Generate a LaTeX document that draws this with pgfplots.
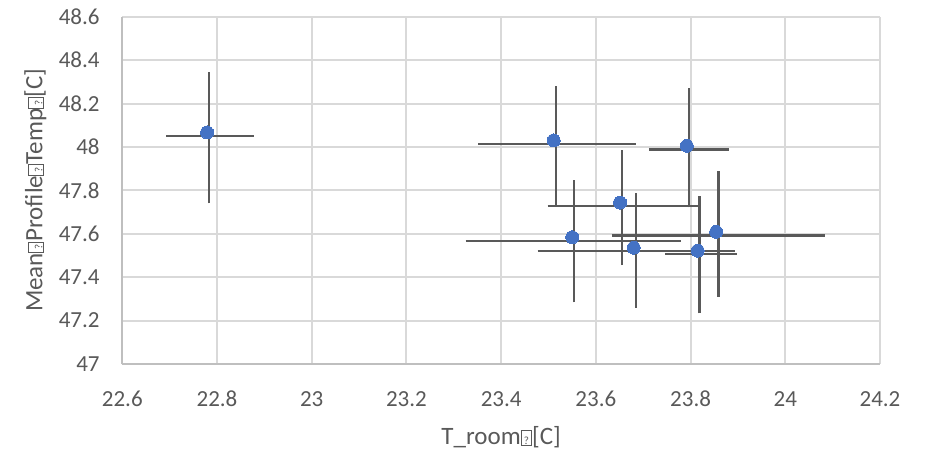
\documentclass[border=0pt]{standalone}
\usepackage{fontspec}
\setmainfont{Carlito}
\usepackage{pgfplots}
\pgfplotsset{compat=1.18}
\definecolor{txt}{HTML}{595959}
\definecolor{gridc}{HTML}{D9D9D9}
\definecolor{axc}{HTML}{BFBFBF}
\definecolor{barc}{HTML}{595959}
\definecolor{dotc}{HTML}{4472C4}
\newcommand\tofu{{\setlength\fboxsep{1pt}\setlength\fboxrule{0.7pt}\fbox{\makebox[8bp]{\rule{0pt}{13bp}\fontsize{11bp}{11bp}\selectfont ?}}}}
\begin{document}
\begin{tikzpicture}
\useasboundingbox (0,0) rectangle (925bp,453bp);
\begin{axis}[
  at={(122.3bp,89bp)}, anchor=south west,
  scale only axis, width=757.7bp, height=347.3bp,
  xmin=22.6, xmax=24.2, ymin=47, ymax=48.6,
  xtick={22.6,22.8,23,23.2,23.4,23.6,23.8,24,24.2},
  ytick={47,47.2,47.4,47.6,47.8,48,48.2,48.4,48.6},
  grid=major,
  major grid style={draw=gridc, line width=2bp},
  separate axis lines,
  axis x line*=bottom, axis y line*=left,
  axis line style={draw=axc, line width=2bp, -},
  major tick length=0pt,
  /pgf/number format/assume math mode=true,
  tick label style={font=\fontsize{23bp}{27bp}\selectfont, text=txt},
  xticklabel style={anchor=center, yshift=-35bp, inner sep=0pt},
  yticklabel style={anchor=east, xshift=-22.5bp, inner sep=0pt},
  xlabel={T\_room\tofu[C]},
  ylabel={Mean\tofu Profile\tofu Temp\tofu[C]},
  label style={font=\fontsize{25bp}{29bp}\selectfont, text=txt},
  xlabel style={at={(axis description cs:0.5,0)}, anchor=center, yshift=-73bp},
  ylabel style={at={(axis description cs:0,0.5)}, anchor=center, yshift=87bp},
  clip=false,
  unbounded coords=jump,
]
% vertical error bars
\addplot[barc, line width=2.2bp, line cap=butt, no marks] coordinates {
 (22.783,47.740) (22.783,48.345) (22.783,nan)
 (23.516,47.729) (23.516,48.283) (23.516,nan)
 (23.656,47.456) (23.656,47.988) (23.656,nan)
 (23.797,47.721) (23.797,48.273) (23.797,nan)
 (23.684,47.259) (23.684,47.788) (23.684,nan)
 (23.554,47.284) (23.554,47.849) (23.554,nan)
 (23.819,47.233) (23.819,47.775) (23.819,nan)
 (23.859,47.310) (23.859,47.887)
};
% horizontal error bars
\addplot[barc, line width=2.2bp, line cap=butt, no marks] coordinates {
 (22.693,48.049) (22.878,48.049) (nan,48.049)
 (23.352,48.012) (23.684,48.012) (nan,48.012)
 (23.498,47.727) (23.819,47.727) (nan,47.727)
 (23.712,47.988) (23.882,47.988) (nan,47.988)
 (23.477,47.519) (23.893,47.519) (nan,47.519)
 (23.325,47.566) (23.780,47.566) (nan,47.566)
 (23.747,47.507) (23.898,47.507) (nan,47.507)
 (23.634,47.592) (24.084,47.592)
};
% points
\addplot[dotc, only marks, mark=*, mark size=6.5bp, mark options={fill=dotc, draw=dotc, line width=0pt}] coordinates {
 (22.779,48.067) (23.511,48.030) (23.651,47.744) (23.792,48.005)
 (23.680,47.536) (23.550,47.584) (23.815,47.522) (23.854,47.609)
};
\end{axis}
\end{tikzpicture}
\end{document}
